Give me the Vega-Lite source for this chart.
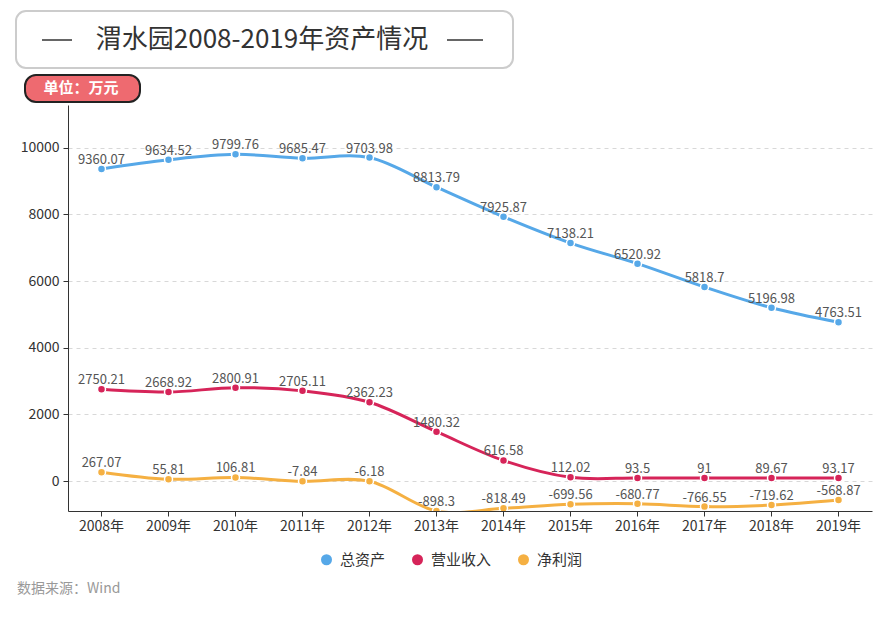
{
  "$schema": "https://vega.github.io/schema/vega-lite/v6.json",
  "width": 804,
  "height": 406,
  "autosize": {"type": "none"},
  "padding": {"left": 68, "top": 105, "right": 24, "bottom": 106},
  "background": "white",
  "config": {
    "view": {"stroke": null},
    "font": "Noto Sans CJK SC",
    "axis": {"labelFont": "Noto Sans CJK SC", "titleFont": "Noto Sans CJK SC"},
    "legend": {"labelFont": "Noto Sans CJK SC"}
  },
  "datasets": {
    "main": [
      {"year": "2008年", "series": "总资产", "value": 9360.07},
      {"year": "2009年", "series": "总资产", "value": 9634.52},
      {"year": "2010年", "series": "总资产", "value": 9799.76},
      {"year": "2011年", "series": "总资产", "value": 9685.47},
      {"year": "2012年", "series": "总资产", "value": 9703.98},
      {"year": "2013年", "series": "总资产", "value": 8813.79},
      {"year": "2014年", "series": "总资产", "value": 7925.87},
      {"year": "2015年", "series": "总资产", "value": 7138.21},
      {"year": "2016年", "series": "总资产", "value": 6520.92},
      {"year": "2017年", "series": "总资产", "value": 5818.7},
      {"year": "2018年", "series": "总资产", "value": 5196.98},
      {"year": "2019年", "series": "总资产", "value": 4763.51},
      {"year": "2008年", "series": "营业收入", "value": 2750.21},
      {"year": "2009年", "series": "营业收入", "value": 2668.92},
      {"year": "2010年", "series": "营业收入", "value": 2800.91},
      {"year": "2011年", "series": "营业收入", "value": 2705.11},
      {"year": "2012年", "series": "营业收入", "value": 2362.23},
      {"year": "2013年", "series": "营业收入", "value": 1480.32},
      {"year": "2014年", "series": "营业收入", "value": 616.58},
      {"year": "2015年", "series": "营业收入", "value": 112.02},
      {"year": "2016年", "series": "营业收入", "value": 93.5},
      {"year": "2017年", "series": "营业收入", "value": 91},
      {"year": "2018年", "series": "营业收入", "value": 89.67},
      {"year": "2019年", "series": "营业收入", "value": 93.17},
      {"year": "2008年", "series": "净利润", "value": 267.07},
      {"year": "2009年", "series": "净利润", "value": 55.81},
      {"year": "2010年", "series": "净利润", "value": 106.81},
      {"year": "2011年", "series": "净利润", "value": -7.84},
      {"year": "2012年", "series": "净利润", "value": -6.18},
      {"year": "2013年", "series": "净利润", "value": -898.3},
      {"year": "2014年", "series": "净利润", "value": -818.49},
      {"year": "2015年", "series": "净利润", "value": -699.56},
      {"year": "2016年", "series": "净利润", "value": -680.77},
      {"year": "2017年", "series": "净利润", "value": -766.55},
      {"year": "2018年", "series": "净利润", "value": -719.62},
      {"year": "2019年", "series": "净利润", "value": -568.87}
    ]
  },
  "data": {"name": "main"},
  "encoding": {
    "x": {
      "field": "year", "type": "nominal", "sort": null,
      "scale": {"type": "band", "paddingInner": 0, "paddingOuter": 0},
      "axis": {
        "title": null, "labelAngle": 0, "labelFontSize": 14, "labelColor": "#333",
        "domainColor": "#333", "tickColor": "#333", "tickSize": 5, "labelPadding": 3,
        "grid": false
      }
    },
    "y": {
      "field": "value", "type": "quantitative",
      "scale": {"domain": [-898.3, 11280], "nice": false, "zero": false},
      "axis": {
        "title": null, "values": [0, 2000, 4000, 6000, 8000, 10000],
        "labelFontSize": 14, "labelColor": "#333", "domainColor": "#333",
        "tickColor": "#333", "tickSize": 5, "labelPadding": 4,
        "gridColor": "#d8d8d8", "gridDash": [4, 4], "format": "d"
      }
    },
    "color": {
      "field": "series", "type": "nominal",
      "scale": {"domain": ["总资产", "营业收入", "净利润"], "range": ["#56a8e8", "#d62459", "#f5b042"]},
      "legend": {
        "title": null, "orient": "none", "direction": "horizontal",
        "legendX": 251, "legendY": 447, "padding": 0,
        "symbolType": "circle", "symbolSize": 121, "symbolStrokeWidth": 0,
        "labelFontSize": 15, "labelColor": "#333", "labelOffset": 6, "columnPadding": 24
      }
    }
  },
  "layer": [
    {
      "mark": {"type": "line", "interpolate": "cardinal", "strokeWidth": 3, "clip": true}
    },
    {
      "mark": {"type": "point", "filled": true, "size": 64, "opacity": 1, "stroke": "white", "strokeWidth": 1.5, "clip": true}
    },
    {
      "mark": {"type": "text", "dy": -5, "baseline": "alphabetic", "fontSize": 13},
      "encoding": {
        "text": {"field": "value", "type": "nominal"},
        "color": {"value": "#555"}
      }
    },
    {
      "data": {"values": [{"t": "渭水园2008-2019年资产情况"}]},
      "layer": [
        {
          "mark": {"type": "rect", "stroke": "#cccccc", "strokeWidth": 2, "cornerRadius": 10},
          "encoding": {"x": {"value": -52}, "x2": {"value": 445}, "y": {"value": -94}, "y2": {"value": -37}, "color": {"value": "white"}}
        },
        {
          "mark": {"type": "rule", "strokeWidth": 1.5},
          "encoding": {"x": {"value": -26}, "x2": {"value": 4}, "y": {"value": -65}, "color": {"value": "#333"}}
        },
        {
          "mark": {"type": "rule", "strokeWidth": 1.5},
          "encoding": {"x": {"value": 379}, "x2": {"value": 415}, "y": {"value": -65}, "color": {"value": "#333"}}
        },
        {
          "mark": {"type": "text", "fontSize": 26, "align": "center", "baseline": "middle"},
          "encoding": {"x": {"value": 194}, "y": {"value": -65}, "text": {"field": "t"}, "color": {"value": "#333"}}
        }
      ]
    },
    {
      "data": {"values": [{"t": "单位：万元"}]},
      "layer": [
        {
          "mark": {"type": "rect", "stroke": "#222", "strokeWidth": 2, "cornerRadius": 11},
          "encoding": {"x": {"value": -43}, "x2": {"value": 72}, "y": {"value": -30}, "y2": {"value": -3}, "color": {"value": "#ee6a70"}}
        },
        {
          "mark": {"type": "text", "fontSize": 15, "fontWeight": "bold", "align": "center", "baseline": "middle"},
          "encoding": {"x": {"value": 13}, "y": {"value": -17}, "text": {"field": "t"}, "color": {"value": "white"}}
        }
      ]
    },
    {
      "data": {"values": [{"t": "数据来源：Wind"}]},
      "mark": {"type": "text", "fontSize": 14, "align": "left", "baseline": "middle"},
      "encoding": {"x": {"value": -51}, "y": {"value": 484}, "text": {"field": "t"}, "color": {"value": "#999"}}
    }
  ]
}
